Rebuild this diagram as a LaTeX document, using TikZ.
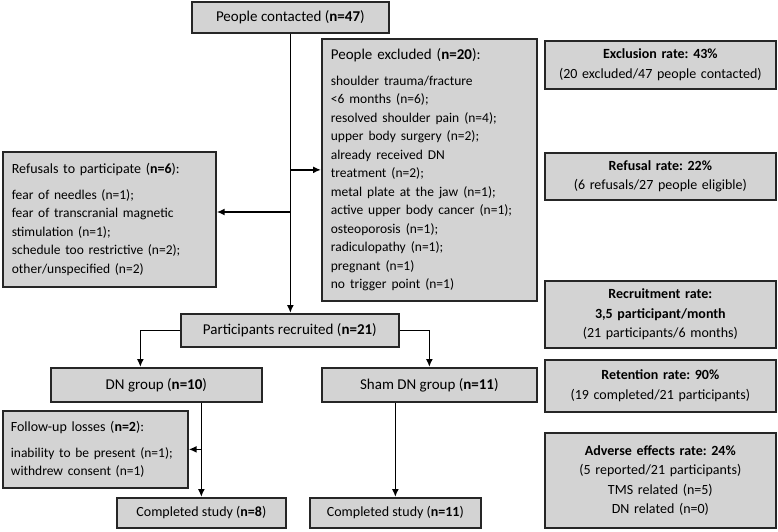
\documentclass[tikz,border=0pt]{standalone}
\usepackage{fontspec}
\setmainfont{Carlito}
\usetikzlibrary{arrows.meta,calc}
\definecolor{boxgray}{RGB}{211,211,211}
\tikzset{
  box/.style={draw=black!85, fill=boxgray, line width=1.7pt, inner sep=0pt,
    anchor=north west, font=\fontsize{15}{18.5}\selectfont},
  leftbox/.style={box, align=left},
  ratebox/.style={box, align=center, minimum width=231pt, text width=221pt,
    font=\fontsize{14}{19.5}\selectfont},
  arr/.style={line width=1.7pt, -{Latex[length=8pt,width=7pt]}},
}
\newcommand\nb[1]{(\textbf{#1})}
\newcommand\listfont{\fontsize{13.5}{18.5}\selectfont}
\frenchspacing

\begin{document}
\begin{tikzpicture}[x=1pt,y=-1pt]
        \useasboundingbox (0,0) rectangle (778,531);

        % The flow
        \node[box, minimum width=197pt, minimum height=31pt] (contacted) at (191,1) {People contacted \nb{n=47}};
        \node[leftbox, minimum width=215pt, minimum height=262pt, text width=197pt] (excluded) at (321,38) {
          People excluded \nb{n=20}: \\[7pt]
          \listfont shoulder trauma/fracture \\
          \listfont <6 months (n=6); \\
          \listfont resolved shoulder pain (n=4); \\
          \listfont upper body surgery (n=2); \\
          \listfont already received DN \\
          \listfont treatment (n=2); \\
          \listfont metal plate at the jaw (n=1); \\
          \listfont active upper body cancer (n=1); \\
          \listfont osteoporosis (n=1); \\
          \listfont radiculopathy (n=1); \\
          \listfont pregnant (n=1) \\
          \listfont no trigger point (n=1)};
        \node[leftbox, minimum width=213pt, minimum height=135pt, text width=195pt, font=\fontsize{14}{18.5}\selectfont] (refusals) at (2,151) {
          Refusals to participate \nb{n=6}: \\[7pt]
          \listfont fear of needles (n=1); \\
          \listfont fear of transcranial magnetic \\
          \listfont stimulation (n=1); \\
          \listfont schedule too restrictive (n=2); \\
          \listfont other/unspecified (n=2)};
        \node[box, minimum width=218pt, minimum height=33pt] (recruited) at (180,313) {Participants recruited \nb{n=21}};
        \node[box, minimum width=211pt, minimum height=34pt] (dn) at (50,367) {DN group \nb{n=10}};
        \node[box, minimum width=215pt, minimum height=34pt] (sham) at (321,367) {Sham DN group \nb{n=11}};
        \node[leftbox, minimum width=185pt, minimum height=77pt, text width=169pt, font=\fontsize{14}{18.5}\selectfont] (losses) at (2,410) {
          Follow-up losses \nb{n=2}: \\[7pt]
          \listfont inability to be present (n=1); \\
          \listfont withdrew consent (n=1)};
        \node[box, minimum width=169pt, minimum height=30pt, font=\fontsize{14}{18.5}\selectfont] (done8) at (116,497) {Completed study \nb{n=8}};
        \node[box, minimum width=171pt, minimum height=30pt, font=\fontsize{14}{18.5}\selectfont] (done11) at (309,497) {Completed study \nb{n=11}};

        % The rates
        \node[ratebox, minimum height=48pt] (rexcl) at (544,40) {
          \textbf{Exclusion rate: 43\%} \\
          (20 excluded/47 people contacted)};
        \node[ratebox, minimum height=47pt] (rref) at (544,152) {
          \textbf{Refusal rate: 22\%} \\
          (6 refusals/27 people eligible)};
        \node[ratebox, minimum height=67pt] (rrecr) at (544,280) {
          \textbf{Recruitment rate:} \\
          \textbf{3,5 participant/month} \\
          (21 participants/6 months)};
        \node[ratebox, minimum height=52pt] (rret) at (544,359) {
          \textbf{Retention rate: 90\%} \\
          (19 completed/21 participants)};
        \node[ratebox, minimum height=95pt] (radv) at (544,432) {
          \textbf{Adverse effects rate: 24\%} \\
          (5 reported/21 participants) \\
          TMS related (n=5) \\
          DN related (n=0)};

        % Connectors
        \coordinate (split) at (contacted.south |- 0,212);
        \draw[arr] (contacted.south) -- (contacted.south |- recruited.north);
        \draw[arr] (contacted.south |- excluded.west) -- (excluded.west);
        \draw[arr] (split) -- (split -| refusals.east);
        \draw[arr] (recruited.west) -| ([xshift=-16pt]dn.north);
        \draw[arr] (recruited.east) -| (sham.north);
        \draw[arr] (dn.south -| done8.north) -- (done8.north);
        \draw[arr] (losses.east -| done8.north) -- (losses.east);
        \draw[arr] (sham.south -| done11.north) -- (done11.north);
\end{tikzpicture}
\end{document}
